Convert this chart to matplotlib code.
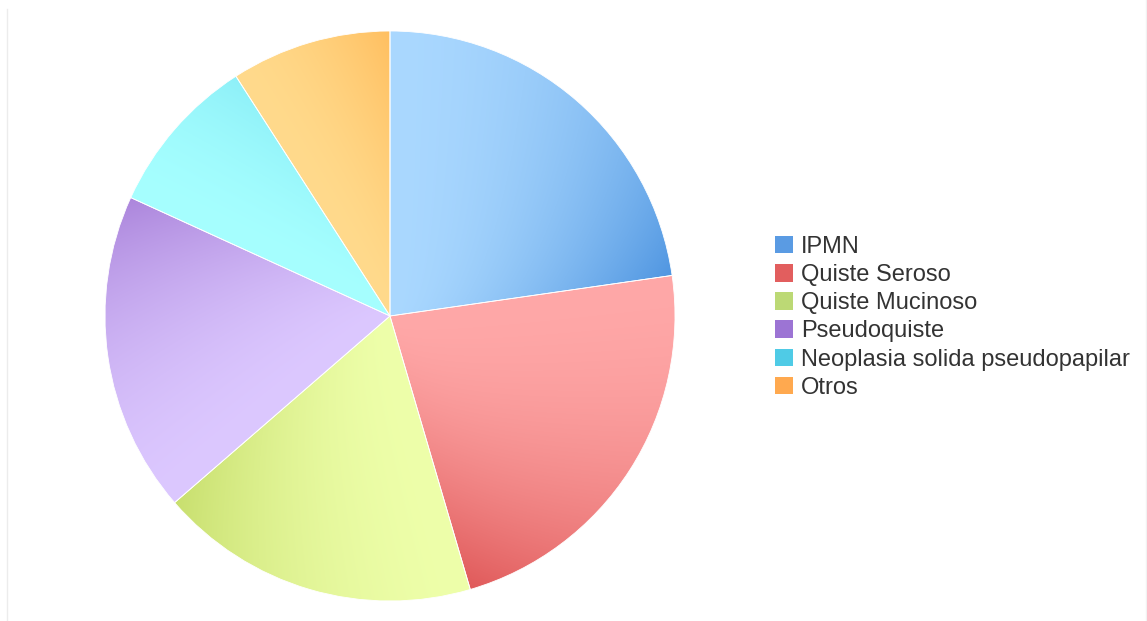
import numpy as np
import matplotlib
matplotlib.use("Agg")
import matplotlib.pyplot as plt
from matplotlib.lines import Line2D
from matplotlib.patches import Patch

plt.rcParams['font.family'] = ['Liberation Sans', 'DejaVu Sans']

labels = ['IPMN', 'Quiste Seroso', 'Quiste Mucinoso', 'Pseudoquiste',
          'Neoplasia solida pseudopapilar', 'Otros']
values = [5, 5, 4, 4, 2, 2]

# light (start of slice) / dark (end of slice, near rim)
light = ['#aad8ff', '#ffa8a8', '#eeffaa', '#dcc8ff', '#a6ffff', '#ffda8c']
dark = ['#5096e1', '#e05a5a', '#c8df6e', '#ac86dc', '#8ef0f8', '#ffbf60']
legend_cols = ['#5a9be3', '#e25e5e', '#bcd975', '#9c74d4', '#4fcbe6', '#ffa94f']

W, H = 1147, 621
fig = plt.figure(figsize=(W / 100, H / 100), dpi=100)
fig.patch.set_facecolor('white')

cx, cy, R = 390, 316, 285
ax = fig.add_axes([(cx - R) / W, (H - cy - R) / H, 2 * R / W, 2 * R / H])
ax.axis('off')

wedges, _ = ax.pie(values, colors=light, startangle=90, counterclock=False,
                   radius=1, wedgeprops=dict(edgecolor='white', linewidth=0.6))

n = 800
xs = np.linspace(-1, 1, n)
X, Y = np.meshgrid(xs, xs[::-1])
rr = np.sqrt(X ** 2 + Y ** 2)
ang = np.degrees(np.arctan2(Y, X))

def to_rgb(h):
    return np.array(matplotlib.colors.to_rgb(h))

for i, w in enumerate(wedges):
    t1, t2 = w.theta1, w.theta2
    a = (ang - t1) % 360
    t = 1 - np.clip(a / (t2 - t1), 0, 1)  # 0 at clockwise start, 1 at end
    wt = np.clip(t, 0, 1) ** 1.7 * np.clip(rr, 0, 1) ** 1.3
    c0, c1 = to_rgb(light[i]), to_rgb(dark[i])
    img = c0[None, None, :] + (c1 - c0)[None, None, :] * wt[..., None]
    im = ax.imshow(img, extent=[-1, 1, -1, 1], zorder=1, interpolation='bilinear')
    im.set_clip_path(w)
    w.set_facecolor('none')
    w.set_zorder(2)
ax.set_xlim(-1, 1)
ax.set_ylim(-1, 1)
ax.set_aspect('equal')

handles = [Patch(facecolor=c, edgecolor='none') for c in legend_cols]
leg = fig.legend(handles, labels, loc='upper left',
                 bbox_to_anchor=(775 / W, 1 - 236 / H), frameon=False,
                 fontsize=17, handlelength=0.76, handleheight=0.76,
                 handletextpad=0.33, labelspacing=0.26, borderpad=0,
                 borderaxespad=0)
for txt in leg.get_texts():
    txt.set_color('#333333')

fig.add_artist(Line2D([7 / W, 7 / W], [0, 1 - 9 / H], color='#ececec', lw=1))
fig.add_artist(Line2D([1145.5 / W, 1145.5 / W], [0, 1], color='#f2f2f2', lw=1))

fig.savefig('out.png', dpi=100, facecolor='white')
